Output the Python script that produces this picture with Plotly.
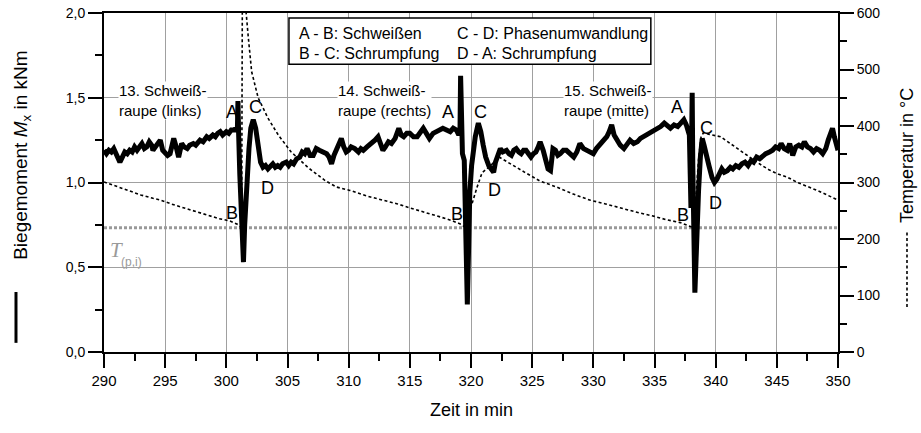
import plotly.graph_objects as go

# ---------------- data ----------------
moment_t = [290.0, 290.2, 290.4, 290.6, 290.8, 291.0, 291.15, 291.3, 291.5, 291.7, 291.9, 292.1, 292.3, 292.5,
            292.7, 292.9, 293.1, 293.3, 293.5, 293.7, 293.9, 294.0, 294.2, 294.4, 294.6, 294.8, 295.0, 295.2,
            295.4, 295.55, 295.7, 295.9, 296.1, 296.35, 296.55, 296.8, 297.0, 297.3, 297.5, 297.85, 298.1,
            298.4, 298.6, 298.9, 299.1, 299.3, 299.5, 299.7, 300.0, 300.2, 300.4, 300.6, 300.8,
            300.9, 300.95, 301.0, 301.1, 301.2, 301.3, 301.4, 301.5, 301.6, 301.7, 301.85, 302.0, 302.2,
            302.4, 302.6, 302.8, 303.0, 303.2, 303.4, 303.6, 303.8, 304.0, 304.2, 304.4, 304.6, 304.9, 305.1,
            305.3, 305.5, 305.75, 306.0, 306.2, 306.4, 306.6, 306.85, 307.1, 307.35, 307.6, 307.9, 308.2,
            308.4, 308.6, 308.8, 309.0, 309.2, 309.4, 309.6, 309.8, 310.0, 310.2, 310.5, 310.8, 311.0, 311.2,
            311.5, 311.7, 311.9, 312.15, 312.4, 312.6, 312.8, 313.0, 313.25, 313.5, 313.8, 314.1, 314.3,
            314.5, 314.75, 315.0, 315.3, 315.6, 315.85, 316.1, 316.35, 316.6, 316.9, 317.2, 317.45, 317.7,
            318.0, 318.3, 318.55, 318.8, 319.0,
            319.1, 319.15, 319.2, 319.3, 319.45, 319.55, 319.7, 319.8, 319.9, 320.05, 320.2, 320.35, 320.6,
            320.8, 321.0, 321.2, 321.45, 321.7, 321.85, 322.0, 322.2, 322.4, 322.6, 322.9, 323.1, 323.3,
            323.5, 323.7, 323.9, 324.1, 324.3, 324.5, 324.7, 324.9, 325.1, 325.3, 325.5, 325.65, 325.9,
            326.1, 326.3, 326.5, 326.7, 326.9, 327.1, 327.3, 327.55, 327.8, 328.1, 328.4, 328.65, 328.9,
            329.2, 329.5, 329.75, 330.0, 330.25, 330.5, 330.8, 331.1, 331.3, 331.5, 331.7, 331.9, 332.2,
            332.5, 332.75, 333.0, 333.3, 333.6, 333.85, 334.1, 334.4, 334.7, 334.95, 335.2, 335.5, 335.8,
            336.05, 336.3, 336.6, 336.9, 337.15, 337.4, 337.6, 337.75,
            337.85, 337.92, 337.98, 338.03, 338.08, 338.13, 338.18, 338.3, 338.4, 338.5, 338.6, 338.75,
            338.9, 339.05, 339.25, 339.45, 339.7, 339.9, 340.1, 340.3, 340.5, 340.7, 340.95, 341.2, 341.4,
            341.65, 341.9, 342.15, 342.4, 342.65, 342.9, 343.1, 343.35, 343.6, 343.85, 344.1, 344.4, 344.65,
            344.9, 345.15, 345.35, 345.6, 345.85, 346.05, 346.3, 346.55, 346.8, 347.05, 347.25, 347.5,
            347.75, 348.0, 348.25, 348.5, 348.75, 349.0, 349.2, 349.4, 349.55, 349.7, 349.85, 350.0]
moment_kNm = [1.19, 1.17, 1.19, 1.18, 1.20, 1.16, 1.14, 1.12, 1.15, 1.18, 1.17, 1.19, 1.18, 1.21,
              1.19, 1.21, 1.23, 1.20, 1.21, 1.24, 1.22, 1.19, 1.21, 1.23, 1.25, 1.19, 1.17, 1.16,
              1.17, 1.22, 1.26, 1.21, 1.15, 1.23, 1.21, 1.20, 1.22, 1.23, 1.22, 1.25, 1.24,
              1.27, 1.26, 1.28, 1.27, 1.29, 1.30, 1.28, 1.30, 1.29, 1.31, 1.31, 1.32,
              1.30, 1.48, 1.30, 1.05, 0.90, 0.75, 0.53, 0.75, 0.90, 0.98, 1.20, 1.32, 1.37,
              1.32, 1.22, 1.12, 1.09, 1.10, 1.08, 1.10, 1.11, 1.09, 1.10, 1.09, 1.11, 1.12, 1.10,
              1.12, 1.11, 1.14, 1.15, 1.18, 1.17, 1.20, 1.16, 1.16, 1.20, 1.19, 1.18, 1.17,
              1.15, 1.11, 1.16, 1.19, 1.22, 1.26, 1.21, 1.18, 1.19, 1.21, 1.20, 1.18, 1.20, 1.19,
              1.21, 1.22, 1.23, 1.25, 1.27, 1.22, 1.19, 1.21, 1.24, 1.23, 1.26, 1.32, 1.28,
              1.27, 1.29, 1.29, 1.27, 1.27, 1.30, 1.32, 1.29, 1.26, 1.29, 1.30, 1.31, 1.32,
              1.31, 1.30, 1.32, 1.31, 1.28,
              1.30, 1.63, 1.30, 1.17, 1.13, 0.80, 0.28, 0.60, 0.94, 1.10, 1.20, 1.27, 1.35,
              1.30, 1.22, 1.15, 1.10, 1.07, 1.06, 1.12, 1.17, 1.20, 1.18, 1.19, 1.17, 1.16,
              1.19, 1.20, 1.18, 1.17, 1.19, 1.19, 1.17, 1.15, 1.17, 1.18, 1.21, 1.24, 1.19,
              1.12, 1.08, 1.07, 1.20, 1.19, 1.16, 1.17, 1.19, 1.19, 1.17, 1.15, 1.18, 1.23,
              1.20, 1.19, 1.18, 1.17, 1.20, 1.22, 1.24, 1.27, 1.30, 1.34, 1.28, 1.25, 1.22,
              1.20, 1.23, 1.25, 1.23, 1.24, 1.26, 1.27, 1.28, 1.29, 1.30, 1.31, 1.33, 1.35,
              1.33, 1.32, 1.34, 1.33, 1.35, 1.37, 1.34, 1.31,
              1.28, 1.05, 0.85, 1.20, 1.53, 1.10, 0.80, 0.35, 0.55, 0.80, 0.95, 1.15,
              1.26, 1.22, 1.15, 1.10, 1.03, 1.00, 1.02, 1.05, 1.08, 1.06, 1.07, 1.09, 1.08,
              1.10, 1.09, 1.11, 1.12, 1.10, 1.13, 1.12, 1.15, 1.14, 1.16, 1.17, 1.18, 1.19,
              1.21, 1.20, 1.23, 1.20, 1.19, 1.23, 1.16, 1.21, 1.22, 1.21, 1.24, 1.21,
              1.20, 1.18, 1.20, 1.19, 1.17, 1.20, 1.25, 1.29, 1.32, 1.27, 1.22, 1.19]

temp_t = [290.0, 291.0, 292.0, 293.0, 294.0, 294.6, 295.5, 296.5, 297.6, 298.5, 299.4, 300.3, 300.9,
          301.25, 301.32, 301.5, 301.6, 301.8, 302.07, 302.6, 303.4, 304.25, 305.3, 306.7, 308.1, 309.0,
          310.1, 311.5, 312.8, 314.0, 315.0, 316.3, 317.5, 318.5, 319.2, 319.5, 320.0, 320.5, 320.9,
          321.6, 322.3, 323.2, 324.4, 325.6, 327.0, 328.3, 329.7, 331.0, 332.5, 333.8, 335.0, 336.0,
          337.1, 337.8, 338.2, 338.4, 338.6, 338.8, 339.0, 339.5, 340.4, 341.0, 341.7, 342.4, 343.1,
          343.8, 344.4, 345.1, 345.8, 346.7, 347.7, 348.4, 349.1, 350.0]
temp_C = [301, 293, 285, 278, 272, 269, 262, 255, 248, 242, 236, 232, 226,
          221, 700, 700, 605, 556, 496, 450, 414, 384, 354, 326, 303, 292,
          286, 276, 269, 262, 255, 247, 239, 232, 226, 221, 257, 292, 317,
          330, 345, 333, 318, 303, 292, 280, 269, 262, 253, 246, 240, 234,
          229, 224, 220, 280, 340, 380, 388, 385, 381, 372, 361, 350, 340,
          330, 322, 315, 310, 300, 292, 285, 278, 269]

T_pi_C = 220  # T(p,i) threshold temperature
x_range = [290, 350]
x_ticks = [290, 295, 300, 305, 310, 315, 320, 325, 330, 335, 340, 345, 350]
m_ticks = [0.0, 0.5, 1.0, 1.5, 2.0]
t_ticks = [0, 100, 200, 300, 400, 500, 600]

phase_labels = ["A", "B", "C", "D"]
weld_labels = ["13. Schweiß-<br>raupe (links)", "14. Schweiß-<br>raupe (rechts)",
               "15. Schweiß-<br>raupe (mitte)"]
legend_rows = [["A - B: Schweißen", "C - D: Phasenumwandlung"],
               ["B - C: Schrumpfung", "D - A: Schrumpfung"]]

FONT = "Liberation Sans, Arial, sans-serif"

fig = go.Figure()

# temperature (base y axis, right side)
fig.add_trace(go.Scatter(x=[x_range[0], x_range[1]], y=[T_pi_C, T_pi_C], yaxis="y", mode="lines",
                         line=dict(color="#9a9a9a", width=3, dash="3px,2px"), hoverinfo="skip",
                         showlegend=False))
fig.add_trace(go.Scatter(x=temp_t, y=temp_C, yaxis="y", mode="lines",
                         line=dict(color="black", width=1.6, dash="3px,2.5px"), showlegend=False))
# bending moment (overlay y2, left side, drawn on top)
fig.add_trace(go.Scatter(x=moment_t, y=moment_kNm, yaxis="y2", mode="lines",
                         line=dict(color="black", width=5), showlegend=False))

axis_common = dict(showline=True, linewidth=2, linecolor="black", ticks="outside", ticklen=14,
                   tickwidth=1.5, tickcolor="black", zeroline=False, automargin=False,
                   ticklabeloverflow="allow",
                   tickfont=dict(family=FONT, size=14, color="black"))

fig.update_layout(
    width=921, height=433,
    margin=dict(l=104, r=83, t=13, b=81, autoexpand=False),
    paper_bgcolor="white", plot_bgcolor="white",
    separators=",.",
    showlegend=False,
    xaxis=dict(range=x_range, tickvals=x_ticks, showgrid=True, gridcolor="#a0a0a0", gridwidth=1,
               mirror=True,
               minor=dict(ticks="outside", ticklen=7, tickwidth=1.5, tickcolor="black", dtick=2.5,
                          tick0=290, showgrid=False),
               **{**axis_common, "tickfont": dict(family=FONT, size=15, color="black")}),
    yaxis=dict(range=[0, 600], tickvals=t_ticks, side="right", showgrid=False,
               minor=dict(ticks="outside", ticklen=7, tickwidth=1.5, tickcolor="black", dtick=50,
                          tick0=0, showgrid=False),
               **axis_common),
    yaxis2=dict(range=[0, 2], tickvals=m_ticks, tickformat=".1f", side="left", overlaying="y",
                showgrid=True, gridcolor="#a0a0a0", gridwidth=1,
                minor=dict(ticks="outside", ticklen=7, tickwidth=1.5, tickcolor="black", dtick=0.25,
                           tick0=0, showgrid=False),
                **axis_common),
)

annotations = []
# axis titles
annotations.append(dict(text="Zeit in min", x=0.5, y=-0.171, xref="paper", yref="paper",
                        showarrow=False, font=dict(family=FONT, size=18, color="black"),
                        xanchor="center", yanchor="middle"))
annotations.append(dict(text="Biegemoment <i>M</i><sub>x</sub> in kNm", x=-0.112, y=0.581,
                        xref="paper", yref="paper", textangle=-90, showarrow=False,
                        font=dict(family=FONT, size=19, color="black"),
                        xanchor="center", yanchor="middle"))
annotations.append(dict(text="Temperatur in °C", x=1.094, y=0.581, xref="paper", yref="paper",
                        textangle=-90, showarrow=False, font=dict(family=FONT, size=18, color="black"),
                        xanchor="center", yanchor="middle"))

# weld pass labels
weld_pos = [(291.14, 1.481), (309.05, 1.481), (327.52, 1.481)]
for txt, (wx, wy) in zip(weld_labels, weld_pos):
    annotations.append(dict(text=txt, x=wx, y=wy, xref="x", yref="y2", showarrow=False,
                            xanchor="left", yanchor="middle", align="left", bgcolor="white",
                            borderpad=0, font=dict(family=FONT, size=15, color="black")))

# phase letters A, B, C, D for each weld
letter_pos = [
    [(300.46, 1.416), (300.46, 0.820), (302.35, 1.446), (303.33, 0.968)],
    [(318.12, 1.416), (318.86, 0.814), (320.74, 1.416), (321.96, 0.956)],
    [(336.84, 1.445), (337.33, 0.808), (339.21, 1.322), (339.96, 0.879)],
]
for weld in letter_pos:
    for lab, (lx, ly) in zip(phase_labels, weld):
        annotations.append(dict(text=lab, x=lx, y=ly, xref="x", yref="y2", showarrow=False,
                                xanchor="center", yanchor="middle",
                                font=dict(family=FONT, size=18, color="black")))

# legend box text
col_x = [0.263, 0.478]
row_y = [0.941, 0.882]
for r, row in enumerate(legend_rows):
    for c, txt in enumerate(row):
        annotations.append(dict(text=txt, x=col_x[c], y=row_y[r], xref="paper", yref="paper",
                                showarrow=False, xanchor="left", yanchor="middle",
                                font=dict(family=FONT, size=16, color="black")))

# T(p,i) label
annotations.append(dict(text="<i>T</i>", x=0.006, y=0.301, xref="paper", yref="paper",
                        showarrow=False, xanchor="left", yanchor="middle",
                        font=dict(family="Liberation Serif, Times New Roman, serif", size=21,
                                  color="#9a9a9a")))
annotations.append(dict(text="(p,i)", x=0.021, y=0.265, xref="paper", yref="paper",
                        showarrow=False, xanchor="left", yanchor="middle",
                        font=dict(family=FONT, size=12, color="#9a9a9a")))

fig.update_layout(annotations=annotations)

shapes = [
    # legend box
    dict(type="rect", xref="paper", yref="paper", x0=0.252, x1=0.745, y0=0.849, y1=0.985,
         line=dict(color="black", width=1.5), fillcolor="white", layer="above"),
    # legend keys beside axis titles
    dict(type="line", xref="paper", yref="paper", x0=-0.1199, x1=-0.1199, y0=0.027, y1=0.177,
         line=dict(color="black", width=3)),
    dict(type="line", xref="paper", yref="paper", x0=1.094, x1=1.094, y0=0.133, y1=0.36,
         line=dict(color="black", width=1.6, dash="3px,2.5px")),
]
fig.update_layout(shapes=shapes)

# remove the default 8 px page margin so the figure fills the 921x433 window exactly
fig.write_html("out.html", config={"displayModeBar": False},
               post_script="document.body.style.margin='0px';")
